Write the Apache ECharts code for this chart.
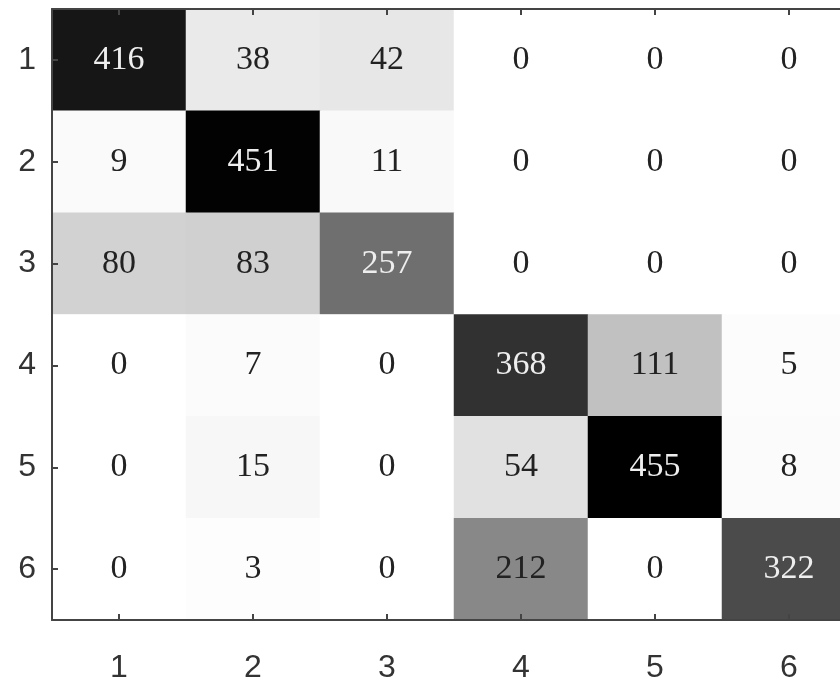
<!DOCTYPE html>
<html>
<head>
<meta charset="utf-8">
<script src="https://cdn.jsdelivr.net/npm/echarts@6/dist/echarts.min.js"></script>
<style>
html, body { margin: 0; padding: 0; background: #fff; }
#main { width: 840px; height: 683px; }
</style>
</head>
<body>
<div id="main"></div>
<script>
// 混淆矩阵数据
var xLabels = ['1', '2', '3', '4', '5', '6'];
var yLabels = ['1', '2', '3', '4', '5', '6'];
var row1 = [416, 38, 42, 0, 0, 0];
var row2 = [9, 451, 11, 0, 0, 0];
var row3 = [80, 83, 257, 0, 0, 0];
var row4 = [0, 7, 0, 368, 111, 5];
var row5 = [0, 15, 0, 54, 455, 8];
var row6 = [0, 3, 0, 212, 0, 322];
var rows = [row1, row2, row3, row4, row5, row6];
var maxVal = 455;

var cells = [];
rows.forEach(function (r, i) {
	r.forEach(function (v, j) {
		cells.push({
			value: [j, i, v],
			label: { color: v > maxVal * 0.5 ? '#eeeeee' : '#222222' }
		});
	});
});

var axisLineStyle = { color: '#444', width: 2 };

var myChart = echarts.init(document.getElementById('main'));

myChart.setOption({
	backgroundColor: '#fff',
	animation: false,
	grid: {
		left: 52,
		top: 9,
		width: 804,
		height: 611,
		containLabel: false,
		outerBoundsMode: 'none'
	},
	xAxis: [{
		type: 'category',
		data: xLabels,
		position: 'bottom',
		axisLine: { show: true, lineStyle: axisLineStyle },
		axisTick: { show: true, inside: true, alignWithLabel: true, length: 6, lineStyle: { color: '#444', width: 2 } },
		axisLabel: { fontFamily: 'Liberation Sans', fontSize: 32, color: '#333', margin: 32 },
		splitLine: { show: false },
		splitArea: { show: false },
		z: 10
	}, {
		type: 'category',
		data: xLabels,
		position: 'top',
		axisLine: { show: true, lineStyle: axisLineStyle },
		axisTick: { show: true, inside: true, alignWithLabel: true, length: 6, lineStyle: { color: '#444', width: 2 } },
		axisLabel: { show: false },
		z: 10
	}],
	yAxis: {
		type: 'category',
		data: yLabels,
		inverse: true,
		axisLine: { show: true, lineStyle: axisLineStyle },
		axisTick: { show: true, inside: true, alignWithLabel: true, length: 6, lineStyle: { color: '#444', width: 2 } },
		axisLabel: { fontFamily: 'Liberation Sans', fontSize: 32, color: '#333', margin: 16 },
		splitLine: { show: false },
		splitArea: { show: false },
		z: 10
	},
	visualMap: {
		show: false,
		min: 0,
		max: maxVal,
		dimension: 2,
		inRange: { color: ['#ffffff', '#000000'] }
	},
	series: [{
		type: 'heatmap',
		data: cells,
		label: {
			show: true,
			fontFamily: 'Liberation Serif',
			fontSize: 34,
			formatter: function (p) { return p.value[2]; }
		},
		itemStyle: { borderWidth: 0 }
	}]
});
</script>
</body>
</html>
